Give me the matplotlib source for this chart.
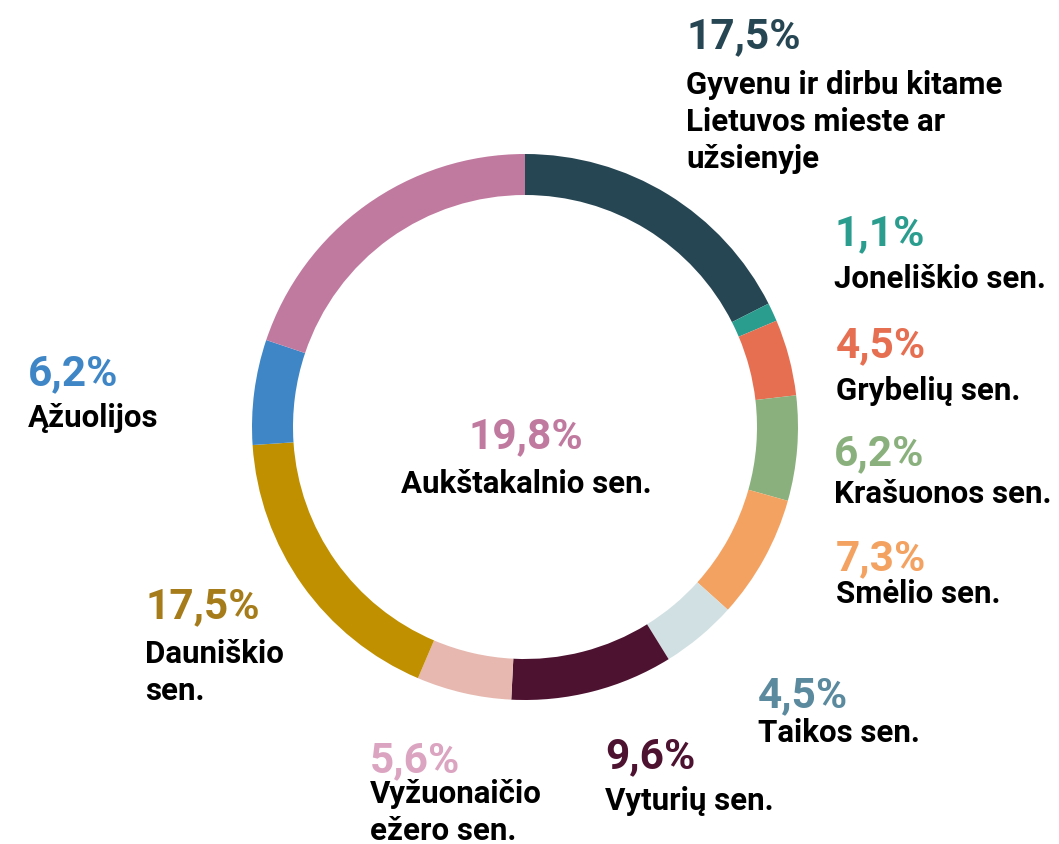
import matplotlib
matplotlib.use("Agg")
import matplotlib.pyplot as plt

# data, clockwise from 12 o'clock
values = [17.5, 1.1, 4.5, 6.2, 7.3, 4.5, 9.6, 5.6, 17.5, 6.2, 19.8]
pct_labels = ["17,5%", "1,1%", "4,5%", "6,2%", "7,3%", "4,5%", "9,6%", "5,6%", "17,5%", "6,2%", "19,8%"]
names = [
    "Gyvenu ir dirbu kitame\nLietuvos mieste ar\nužsienyje",
    "Joneliškio sen.",
    "Grybelių sen.",
    "Krašuonos sen.",
    "Smėlio sen.",
    "Taikos sen.",
    "Vyturių sen.",
    "Vyžuonaičio\nežero sen.",
    "Dauniškio\nsen.",
    "Ąžuolijos",
    "Aukštakalnio sen.",
]
slice_colors = ["#264653", "#2a9d8f", "#e76f51", "#8ab17d", "#f4a261", "#d1e0e3",
                "#4e1231", "#e6b8af", "#c09000", "#3f86c6", "#c17a9f"]
text_colors = ["#264653", "#2a9d8f", "#e76f51", "#8ab17d", "#f4a261", "#5b8a9f",
               "#4e1231", "#dba4c0", "#a67c1a", "#3f86c6", "#c17a9f"]

# label anchor: (x, pct baseline, name baseline, ha) in pixel coords
label_pos = [
    (686, 48, 94, "left"),
    (834, 245, 288, "left"),
    (836, 357, 400, "left"),
    (834, 465, 503, "left"),
    (836, 570, 603, "left"),
    (758, 707, 742, "left"),
    (605, 768, 810, "left"),
    (370, 772, 803, "left"),
    (145, 618, 663, "left"),
    (28, 385, 427, "left"),
    (526, 448, 493, "center"),
]
LINE_STEP = 37

W, H = 1059, 845
plt.rcParams["font.family"] = ["Roboto", "DejaVu Sans"]
fig = plt.figure(figsize=(W / 100, H / 100), dpi=100)
ax = fig.add_axes([0, 0, 1, 1])

ax.pie(values, colors=slice_colors, radius=273, center=(525, H - 428),
       startangle=90, counterclock=False,
       wedgeprops=dict(width=41, linewidth=0))

for (x, yp, yn, ha), p, n, c in zip(label_pos, pct_labels, names, text_colors):
    ax.text(x, H - yp, p, color=c, fontsize=30.5, fontweight="bold", ha=ha, va="baseline")
    for i, line in enumerate(n.split("\n")):
        ax.text(x, H - yn - i * LINE_STEP, line, color="black", fontsize=22.5,
                fontweight="bold", ha=ha, va="baseline")

ax.set_xlim(0, W)
ax.set_ylim(0, H)
ax.set_aspect("equal")
ax.axis("off")

fig.savefig("out.png", dpi=100, facecolor="white")
